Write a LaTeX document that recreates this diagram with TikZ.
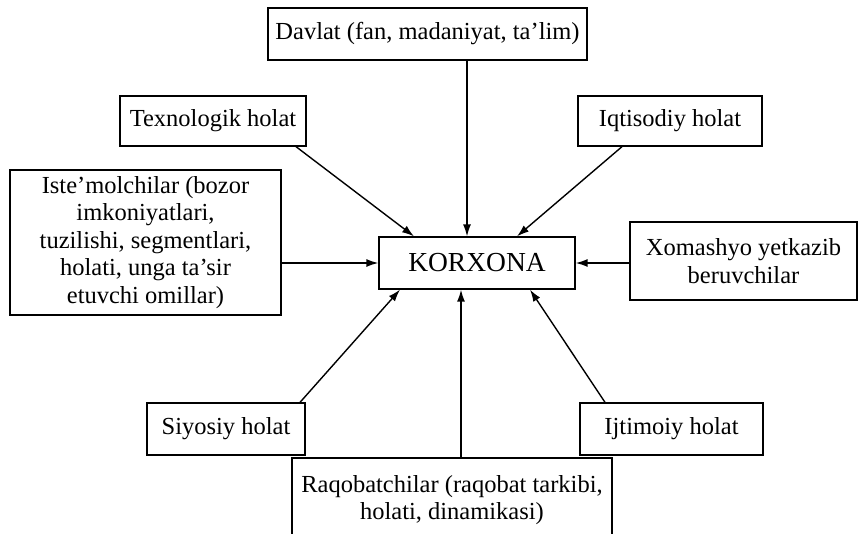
\documentclass[tikz,border=0pt]{standalone}
\usepackage{fontspec}
\setmainfont{Liberation Serif}
\usepackage{tikz}
\usetikzlibrary{arrows.meta}

\begin{document}
\begin{tikzpicture}[x=1pt,y=-1pt,
	blok/.style={draw,line width=1.3pt,align=center,inner sep=4pt,
		font=\fontsize{24.5}{27.5}\selectfont},
	strel/.style={line width=1.4pt,-{Latex[length=12pt,width=8pt]}}]
			\clip (0,0) rectangle (858,533);
			\node [blok,minimum width=319pt,minimum height=52pt] (davlat) at (427.5,34) {Davlat (fan, madaniyat, ta'lim)};
			\node [blok,minimum width=186pt,minimum height=50pt] (texno) at (213,121) {Texnologik holat};
			\node [blok,minimum width=184pt,minimum height=50pt] (iqtis) at (670,121) {Iqtisodiy holat};
			\node [blok,minimum width=271pt,minimum height=145pt] (istem) at (145.5,242.5) {Iste'molchilar (bozor\\imkoniyatlari,\\tuzilishi, segmentlari,\\holati, unga ta'sir\\etuvchi omillar)};
			\node [blok,minimum width=196pt,minimum height=52pt,font=\fontsize{27.5}{30}\selectfont] (korx) at (477,263) {KORXONA};
			\node [blok,minimum width=227pt,minimum height=78pt] (xomash) at (743.5,261) {Xomashyo yetkazib\\beruvchilar};
			\node [blok,minimum width=158pt,minimum height=52pt] (siyos) at (226,429) {Siyosiy holat};
			\node [blok,minimum width=183pt,minimum height=52pt] (ijtim) at (671.5,429) {Ijtimoiy holat};
			\node [blok,minimum width=320pt,minimum height=84pt] (raqob) at (452,500) {Raqobatchilar (raqobat tarkibi,\\holati, dinamikasi)};
			\draw [strel] ([xshift=39.5pt]davlat.south) -- ([xshift=-10pt]korx.north);
			\draw [strel] ([xshift=83pt]texno.south) -- ([xshift=-63pt]korx.north);
			\draw [strel] ([xshift=-48pt]iqtis.south) -- ([xshift=40pt]korx.north);
			\draw [strel] (istem.east |- korx.west) -- (korx.west);
			\draw [strel] (xomash.west |- korx.east) -- (korx.east);
			\draw [strel] ([xshift=74pt]siyos.north) -- ([xshift=-77pt]korx.south);
			\draw [strel] ([xshift=-66.5pt]ijtim.north) -- ([xshift=53pt]korx.south);
			\draw [strel] ([xshift=9pt]raqob.north) -- ([xshift=-16pt]korx.south);
		\end{tikzpicture}
\end{document}
